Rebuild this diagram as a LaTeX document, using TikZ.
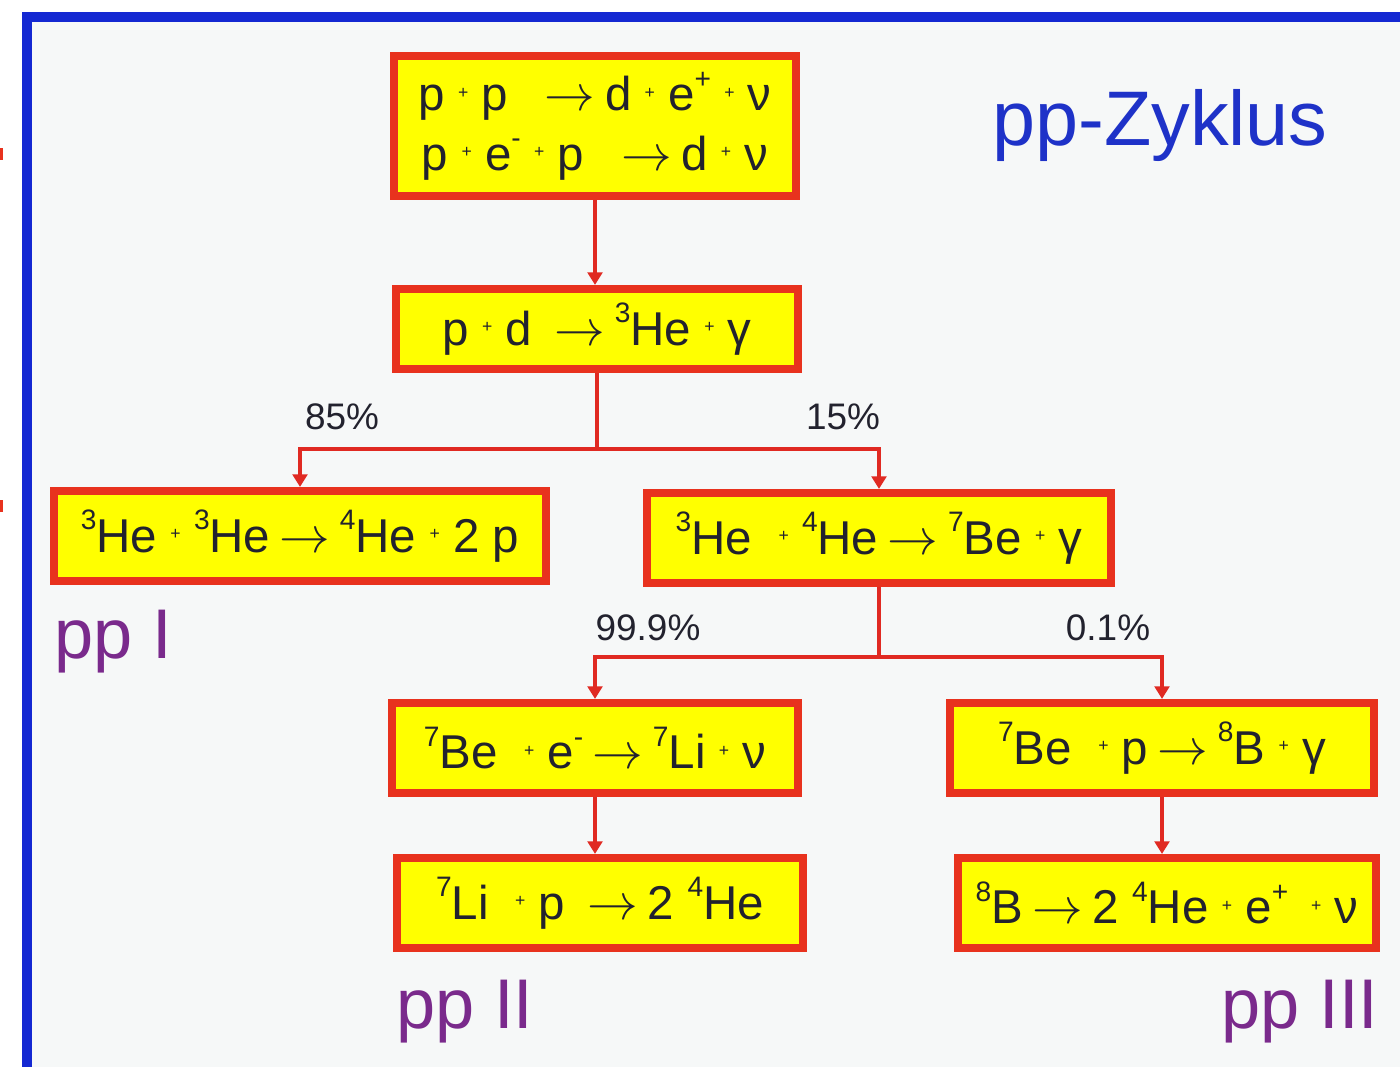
\documentclass[tikz,border=0pt]{standalone}
\usepackage{fontspec}
\setmainfont{Liberation Sans}
\usetikzlibrary{arrows.meta}
\definecolor{frameblue}{HTML}{1428D2}
\definecolor{boxred}{HTML}{E8321E}
\definecolor{boxyellow}{HTML}{FFFF00}
\definecolor{linered}{HTML}{E02A22}
\definecolor{titleblue}{HTML}{1E32C8}
\definecolor{labpurple}{HTML}{7A2A8C}
\definecolor{bgpanel}{HTML}{F6F8F8}
\definecolor{txt}{HTML}{22222E}
\newcommand{\pl}{\hspace{0.28em}\raisebox{0.5ex}{\fontsize{5}{5}\selectfont +}\hspace{0.28em}}
\newcommand{\hi}[1]{\raisebox{0.9ex}{\fontsize{8}{8}\selectfont #1}}
\newcommand{\nuc}[2]{\hi{#1}#2}
\newcommand{\ra}{\hspace{0.2em}$\rightarrow$\hspace{0.2em}}
\tikzset{
  rbox/.style={draw=boxred, line width=2.3pt, fill=boxyellow, text=txt,
    inner sep=0pt, font=\fontsize{13.5}{17.5}\selectfont, align=center},
  conn/.style={draw=linered, line width=1.4pt},
  arr/.style={conn, -{Triangle[width=4.2pt,length=3.6pt]}},
  pct/.style={text=txt, font=\fontsize{10.5}{12}\selectfont},
  pplab/.style={text=labpurple, font=\fontsize{20}{24}\selectfont},
}
\begin{document}
\begin{tikzpicture}[x=0.01cm,y=-0.01cm]
\useasboundingbox (0,0) rectangle (1400,1066);
\fill[white] (0,0) rectangle (1400,1066);
\fill[bgpanel] (27,17) rectangle (1420,1080);
\draw[frameblue, line width=2.9pt] (27,17) rectangle (1420,1080);
\fill[boxred] (0,148) rectangle (3,160);
\fill[boxred] (0,500) rectangle (3,512);

\node[rbox, minimum width=4.02cm, minimum height=1.40cm] (A) at (595,126)
  {p\pl p \hspace{0.3em}\ra d\pl e\hi{+}\pl ν\\[-0.1ex]
   p\pl e\hi{-}\pl p \hspace{0.3em}\ra d\pl ν};
\node[rbox, minimum width=4.02cm, minimum height=0.80cm] (B) at (597,329)
  {p\pl d \ra \nuc{3}{He}\pl γ};
\node[rbox, minimum width=4.92cm, minimum height=0.90cm] (C) at (300,536)
  {\nuc{3}{He}\pl\nuc{3}{He}\ra\nuc{4}{He}\pl 2 p};
\node[rbox, minimum width=4.64cm, minimum height=0.90cm] (D) at (879,538)
  {\nuc{3}{He} \pl\nuc{4}{He}\ra\nuc{7}{Be}\pl γ};
\node[rbox, minimum width=4.06cm, minimum height=0.90cm] (E) at (595,748)
  {\nuc{7}{Be} \pl e\hi{-}\ra\nuc{7}{Li}\pl ν};
\node[rbox, minimum width=4.05cm, minimum height=0.90cm] (F) at (600,903)
  {\nuc{7}{Li} \pl p \ra 2 \nuc{4}{He}};
\node[rbox, minimum width=4.24cm, minimum height=0.90cm] (G) at (1162,748)
  {\nuc{7}{Be} \pl p\ra\nuc{8}{B}\pl γ};
\node[rbox, minimum width=4.17cm, minimum height=0.90cm] (H) at (1167,903)
  {\nuc{8}{B}\ra 2 \nuc{4}{He}\pl e\hi{+}\hspace{0.2em}\pl ν};

\coordinate (J1) at (B.south |- 0,449);
\coordinate (J2) at (D.south |- 0,657);

\draw[arr] (A.south) -- (A.south |- B.north);
\draw[conn] (B.south) -- (J1);
\draw[arr] (J1) -| (C.north);
\draw[arr] (J1) -| (D.north);
\draw[conn] (D.south) -- (J2);
\draw[arr] (J2) -| (E.north);
\draw[arr] (J2) -| (G.north);
\draw[arr] (E.south) -- (E.south |- F.north);
\draw[arr] (G.south) -- (G.south |- H.north);

\node[pct] (p85) at (342,417) {85\%};
\node[pct] (p15) at (843,417) {15\%};
\node[pct] (p999) at (648,628) {99.9\%};
\node[pct] (p01) at (1108,628) {0.1\%};

\node[text=titleblue, font=\fontsize{22}{26}\selectfont] (title) at (1160,125) {pp-Zyklus};
\node[pplab] (ppI) at (113,642) {pp I};
\node[pplab] (ppII) at (465,1012) {pp II};
\node[pplab] (ppIII) at (1300,1012) {pp III};
\end{tikzpicture}
\end{document}
